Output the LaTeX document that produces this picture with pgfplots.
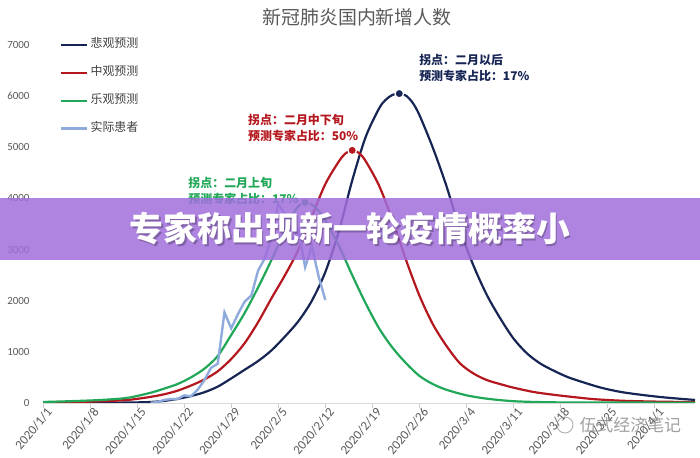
\documentclass[border=0pt]{standalone}
\usepackage{fontspec}
\setmainfont{Carlito}
\newfontfamily\cjk{Noto Sans CJK SC}
\usepackage{pgfplots}
\pgfplotsset{compat=1.18}
\definecolor{navy}{RGB}{23,37,84}
\definecolor{cred}{RGB}{180,24,30}
\definecolor{cgreen}{RGB}{32,168,88}
\definecolor{cblue}{RGB}{143,170,220}
\definecolor{tgrey}{RGB}{89,89,89}
\definecolor{banner}{RGB}{160,110,219}
\begin{document}
\begin{tikzpicture}[x=1bp,y=1bp]
\useasboundingbox (0,0) rectangle (700,458);
\begin{axis}[
  at={(43bp,55bp)}, anchor=south west,
  scale only axis, width=652bp, height=358bp,
  xmin=0, xmax=97, ymin=0, ymax=7000,
  axis x line*=bottom, axis y line*=left,
  axis line style={-},
  x axis line style={draw=black!15, line width=0.8bp},
  y axis line style={draw=none},
  ytick={0,1000,...,7000},
  ytick style={draw=none},
  xtick={0,7,...,91},
  xticklabels={2020/1/1,2020/1/8,2020/1/15,2020/1/22,2020/1/29,2020/2/5,2020/2/12,2020/2/19,2020/2/26,2020/3/4,2020/3/11,2020/3/18,2020/3/25,2020/4/1},
  xtick style={draw=black!20, line width=0.6bp},
  major tick length=5bp, tick align=outside,
  x tick label style={rotate=50, anchor=north east, xshift=4bp, inner sep=1bp, font=\fontsize{13}{14}\selectfont, text=tgrey},
  y tick label style={font=\fontsize{11}{12}\selectfont, text=tgrey, xshift=-5bp},
  /pgf/number format/assume math mode=true,
  /pgf/number format/1000 sep={},
  scaled y ticks=false,
  legend style={draw=none, fill=none, at={(0.026,1.024)}, anchor=north west,
    font=\cjk\fontsize{12}{14}\selectfont, text=black!75, row sep=12bp, inner sep=0pt,
    nodes={text height=9bp, text depth=3bp, inner sep=2bp}},
  legend cell align=left,
  legend image code/.code={\draw[#1] (0bp,0bp) -- (26bp,0bp);},
]
\addplot[navy, line width=2.2bp, smooth, no marks] coordinates {
(0,0)(5,2)(10,5)(14,12)(16,20)(18,40)(20,80)(22,135)(24,210)(26,320)(28,480)(30,650)(32,820)(34,1030)(36,1300)(38,1600)(40,2000)(42,2560)(44,3350)(46,4350)(48,5200)(50,5760)(51,5930)(52,6025)(53,6050)(54,6010)(55,5870)(56,5630)(58,4990)(60,4250)(62,3400)(64,2700)(66,2120)(68,1660)(70,1260)(72,970)(74,770)(76,630)(78,510)(80,420)(83,300)(86,215)(89,160)(92,115)(95,80)(97,60)};
\addlegendentry{悲观预测}
\addplot[cred, line width=2.2bp, smooth, no marks] coordinates {
(0,10)(5,20)(10,40)(13,65)(16,120)(18,170)(20,240)(22,340)(24,460)(26,620)(28,860)(30,1170)(32,1580)(34,2050)(36,2500)(38,3000)(40,3650)(42,4280)(44,4720)(45,4880)(46,4940)(47,4890)(48,4730)(50,4250)(52,3570)(54,2800)(56,2100)(58,1540)(60,1120)(62,780)(64,580)(66,450)(68,370)(70,300)(73,215)(76,160)(79,115)(82,75)(86,45)(90,30)(94,22)(97,20)};
\addlegendentry{中观预测}
\addplot[cgreen, line width=2.2bp, smooth, no marks] coordinates {
(0,20)(4,35)(8,55)(11,80)(13,110)(16,200)(18,280)(20,370)(22,500)(24,670)(26,920)(28,1330)(30,1760)(32,2260)(34,2800)(36,3380)(37,3650)(38,3850)(39,3920)(40,3880)(41,3760)(42,3570)(44,3080)(46,2500)(48,1950)(50,1460)(52,1080)(54,780)(56,530)(58,370)(60,260)(63,150)(66,85)(70,35)(75,15)(80,10)(90,8)(97,5)};
\addlegendentry{乐观预测}
\addplot[cblue, line width=2.4bp, no marks] coordinates {
(16,4)(17,17)(18,59)(19,77)(20,77)(21,149)(22,131)(23,259)(24,444)(25,688)(26,769)(27,1771)(28,1459)(29,1737)(30,1982)(31,2102)(32,2590)(33,2829)(34,3235)(35,3887)(36,3694)(37,3143)(38,3399)(39,2656)(40,3062)(41,2478)(42,2015)};
\addlegendentry{实际患者}
\addplot[forget plot, only marks, mark=*, mark size=4.3bp, mark options={fill=navy, draw=white, line width=1.3bp}] coordinates {(53,6050)};
\addplot[forget plot, only marks, mark=*, mark size=4.3bp, mark options={fill=cred, draw=white, line width=1.3bp}] coordinates {(46,4940)};
\addplot[forget plot, only marks, mark=*, mark size=4.3bp, mark options={fill=cgreen, draw=white, line width=1.3bp}] coordinates {(39,3920)};
\node[anchor=west, align=left, text=navy, font=\cjk\bfseries\fontsize{12}{16}\selectfont, inner sep=0pt] at (axis cs:55.95,6543) {拐点：二月以后\\预测专家占比：17\%};
\node[anchor=west, align=left, text=cred, font=\cjk\bfseries\fontsize{12}{16}\selectfont, inner sep=0pt] at (axis cs:30.5,5371) {拐点：二月中下旬\\预测专家占比：50\%};
\node[anchor=west, align=left, text=cgreen, font=\cjk\bfseries\fontsize{12}{16}\selectfont, inner sep=0pt] at (axis cs:21.6,4141) {拐点：二月上旬\\预测专家占比：17\%};
\end{axis}
\node[text=tgrey, font=\cjk\fontsize{19}{21}\selectfont] at (357,441) {新冠肺炎国内新增人数};
\fill[banner, fill opacity=0.85] (0,198) rectangle (700,260);
\node[text=black, text opacity=0.25, font=\cjk\bfseries\fontsize{34}{36}\selectfont] at (351.5,227.5) {专家称出现新一轮疫情概率小};
\node[text=white, font=\cjk\bfseries\fontsize{34}{36}\selectfont] at (350,229) {专家称出现新一轮疫情概率小};
\draw[black!45, line width=0.9bp, opacity=0.7] (565,33) circle (8);
\node[text=black!50, text opacity=0.75, font=\cjk\fontsize{17}{18}\selectfont, anchor=west] at (576,33) {伍式经济笔记};
\end{tikzpicture}
\end{document}
